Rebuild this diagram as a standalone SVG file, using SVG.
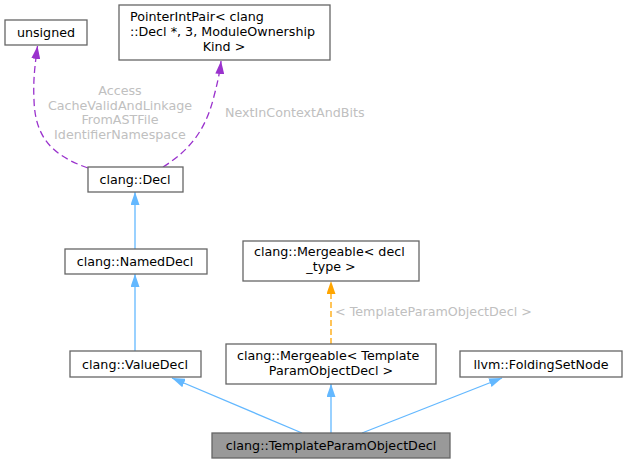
<svg xmlns="http://www.w3.org/2000/svg" width="625" height="464" viewBox="0 0 625 464">
<style>
  .box { fill: #ffffff; stroke: #666666; stroke-width: 1.3; }
  .cur { fill: #999999; stroke: #666666; stroke-width: 1.3; }
  text { font-family: "DejaVu Sans", "Liberation Sans", sans-serif; font-size: 12.7px; fill: #000000; }
  .m { text-anchor: middle; }
  .s { text-anchor: start; }
  .lbl { fill: #c0c0c0; }
  .blue { fill: none; stroke: #63b8ff; stroke-width: 1.3; marker-end: url(#ab); }
  .purp { fill: none; stroke: #9a32cd; stroke-width: 1.3; stroke-dasharray: 7,4; marker-end: url(#ap); }
  .orng { fill: none; stroke: #ffa500; stroke-width: 1.3; stroke-dasharray: 6,3; marker-end: url(#ao); }
</style>
<defs>
  <marker id="ab" viewBox="0 0 13 9" refX="13" refY="4.5" markerWidth="13" markerHeight="9" markerUnits="userSpaceOnUse" orient="auto">
    <path d="M0,0 L13,4.5 L0,9 z" fill="#63b8ff"/>
  </marker>
  <marker id="ap" viewBox="0 0 13 9" refX="13" refY="4.5" markerWidth="13" markerHeight="9" markerUnits="userSpaceOnUse" orient="auto">
    <path d="M0,0 L13,4.5 L0,9 z" fill="#9a32cd"/>
  </marker>
  <marker id="ao" viewBox="0 0 13 9" refX="13" refY="4.5" markerWidth="13" markerHeight="9" markerUnits="userSpaceOnUse" orient="auto">
    <path d="M0,0 L13,4.5 L0,9 z" fill="#ffa500"/>
  </marker>
</defs>
<g id="edges">
  <path class="purp" d="M88,168 C50,155 35,135 34,100 C33,80 35,65 37.5,46"/>
  <path class="purp" d="M163,167 C190,150 205,130 213,100 C217,85 220,72 221,61"/>
  <path class="blue" d="M135,249 L135,192"/>
  <path class="blue" d="M135,351 L135,274"/>
  <path class="orng" d="M331,344 L331,281"/>
  <path class="blue" d="M302,433 L172,378"/>
  <path class="blue" d="M331,433 L331,384"/>
  <path class="blue" d="M362,433 L502,378"/>
  <text class="lbl m" x="120" y="95">Access</text>
  <text class="lbl m" x="120" y="109.5">CacheValidAndLinkage</text>
  <text class="lbl m" x="120" y="124">FromASTFile</text>
  <text class="lbl m" x="120" y="139">IdentifierNamespace</text>
  <text class="lbl s" x="225" y="117">NextInContextAndBits</text>
  <text class="lbl s" x="335" y="316">&lt; TemplateParamObjectDecl &gt;</text>
</g>
<g id="node_unsigned">
  <rect class="box" x="5" y="20" width="82" height="25"/>
  <text class="m" x="46" y="37">unsigned</text>
</g>
<g id="node_pointerintpair">
  <rect class="box" x="119" y="5" width="211" height="55"/>
  <text class="s" x="130" y="21">PointerIntPair&lt; clang</text>
  <text class="s" x="130" y="36">::Decl *, 3, ModuleOwnership</text>
  <text class="m" x="224" y="50.5">Kind &gt;</text>
</g>
<g id="node_decl">
  <rect class="box" x="88" y="167" width="95" height="25"/>
  <text class="m" x="135" y="184">clang::Decl</text>
</g>
<g id="node_nameddecl">
  <rect class="box" x="65" y="249" width="142" height="25"/>
  <text class="m" x="135" y="266">clang::NamedDecl</text>
</g>
<g id="node_mergeable_decltype">
  <rect class="box" x="243" y="241" width="176" height="40"/>
  <text class="s" x="254" y="256">clang::Mergeable&lt; decl</text>
  <text class="m" x="331" y="271">_type &gt;</text>
</g>
<g id="node_valuedecl">
  <rect class="box" x="70" y="351" width="131" height="26"/>
  <text class="m" x="135" y="369">clang::ValueDecl</text>
</g>
<g id="node_mergeable_tpod">
  <rect class="box" x="226" y="344" width="210" height="40"/>
  <text class="s" x="237" y="360">clang::Mergeable&lt; Template</text>
  <text class="m" x="331" y="375">ParamObjectDecl &gt;</text>
</g>
<g id="node_foldingsetnode">
  <rect class="box" x="460" y="351" width="162" height="26"/>
  <text class="m" x="541" y="369">llvm::FoldingSetNode</text>
</g>
<g id="node_tpod">
  <rect class="cur" x="212" y="433" width="238" height="25"/>
  <text class="m" x="331" y="450">clang::TemplateParamObjectDecl</text>
</g>
</svg>
